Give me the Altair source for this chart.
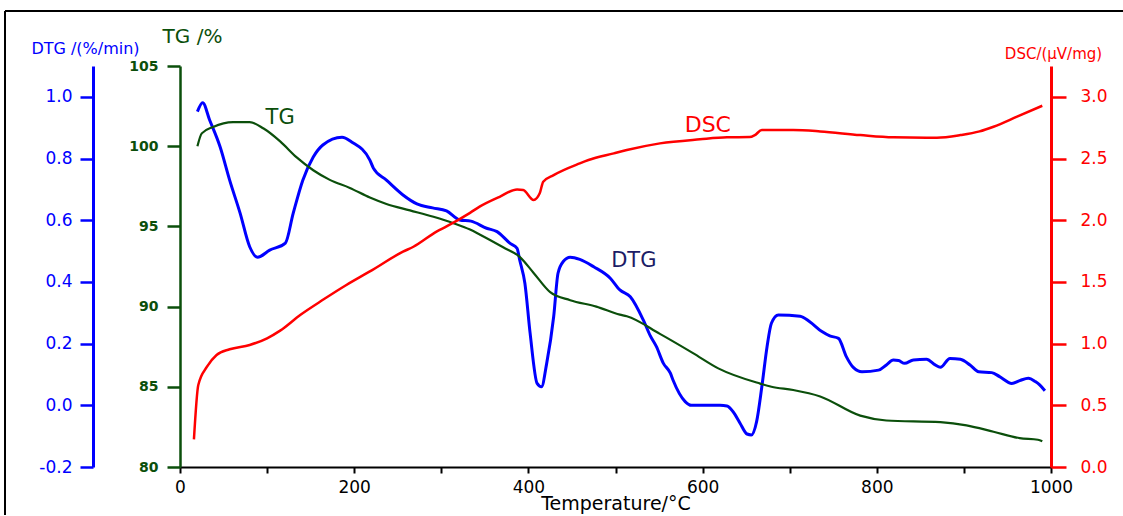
import altair as alt
import pandas as pd

# ---------------- data ----------------
T_TG = [20, 25, 38, 61, 80, 96, 115, 134, 153, 172, 195, 218, 237, 264, 291, 314, 333, 344,
        371, 390, 406, 425, 448, 478, 505, 513, 551, 589, 618, 666, 679, 704, 735, 781, 811,
        873, 903, 934, 964, 985, 990]
TG = [100.0, 100.8, 101.2, 101.5, 101.5, 101.1, 100.3, 99.3, 98.5, 97.9, 97.4, 96.8, 96.4, 96.0,
      95.6, 95.2, 94.8, 94.5, 93.7, 93.1, 92.1, 90.9, 90.4, 90.0, 89.5, 89.4, 88.3, 87.1, 86.15,
      85.2, 85.0, 84.8, 84.4, 83.2, 82.9, 82.8, 82.6, 82.2, 81.8, 81.7, 81.6]

T_DTG = [20, 26, 34, 46, 57, 69, 80, 89, 103, 121, 130, 141, 153, 164, 186, 197, 218, 222, 237,
         256, 272, 290, 306, 321, 334, 352, 364, 379, 387, 390, 396, 402, 410, 415, 421, 429,
         434, 440, 448, 459, 475, 494, 505, 517, 532, 540, 547, 555, 563, 566, 580, 587, 620,
         628, 635, 643, 651, 656, 662, 668, 674, 679, 687, 712, 723, 737, 746, 756, 765, 773,
         783, 802, 811, 819, 825, 832, 842, 857, 867, 873, 884, 896, 907, 917, 932, 941, 955,
         964, 974, 982, 987, 993]
DTG = [0.952, 0.981, 0.925, 0.838, 0.730, 0.623, 0.514, 0.480, 0.503, 0.526, 0.623, 0.730, 0.805,
       0.844, 0.869, 0.854, 0.795, 0.769, 0.730, 0.682, 0.653, 0.640, 0.630, 0.601, 0.597, 0.574,
       0.563, 0.525, 0.509, 0.471, 0.395, 0.233, 0.071, 0.060, 0.136, 0.287, 0.428, 0.466, 0.480,
       0.473, 0.449, 0.412, 0.374, 0.352, 0.276, 0.225, 0.190, 0.136, 0.104, 0.082, 0.012, 0.0,
       0.0, -0.002, -0.021, -0.058, -0.093, -0.096, -0.053, 0.060, 0.190, 0.266, 0.293, 0.289,
       0.271, 0.239, 0.225, 0.217, 0.158, 0.123, 0.109, 0.114, 0.131, 0.147, 0.145, 0.136, 0.147,
       0.149, 0.131, 0.123, 0.152, 0.149, 0.131, 0.109, 0.106, 0.093, 0.071, 0.080, 0.088, 0.077,
       0.066, 0.047]

T_DSC = [16, 21, 31, 42, 57, 80, 100, 115, 138, 165, 191, 218, 256, 268, 295, 306, 333, 344, 367,
         387, 394, 406, 413, 417, 429, 459, 469, 498, 513, 551, 597, 628, 654, 660, 668, 704, 735,
         781, 819, 869, 896, 918, 934, 961, 990]
DSC = [0.224, 0.665, 0.813, 0.908, 0.954, 0.989, 1.043, 1.105, 1.232, 1.359, 1.475, 1.585, 1.745,
       1.785, 1.91, 1.95, 2.06, 2.11, 2.19, 2.25, 2.245, 2.164, 2.218, 2.312, 2.366, 2.461, 2.488,
       2.542, 2.569, 2.623, 2.656, 2.672, 2.674, 2.690, 2.731, 2.731, 2.720, 2.690, 2.672, 2.669,
       2.690, 2.72, 2.758, 2.839, 2.928]

X_TICKS = list(range(0, 1001, 100))
TG_TICKS = [80, 85, 90, 95, 100, 105]
DTG_TICKS = [-0.2, 0.0, 0.2, 0.4, 0.6, 0.8, 1.0]
DSC_TICKS = [0.0, 0.5, 1.0, 1.5, 2.0, 2.5, 3.0]

LABEL_NAMES = ["TG", "DTG", "DSC"]
LABEL_T = [115, 521, 606]
LABEL_V = [101.76, 0.468, 2.77]

FONT = "DejaVu Sans"
BLUE = "#0000ff"
GREEN = "#0b4f0b"
RED = "#ff0000"
NAVY = "#1c1c66"

tg_df = pd.DataFrame({"T": T_TG, "v": TG})
dtg_df = pd.DataFrame({"T": T_DTG, "v": DTG})
dsc_df = pd.DataFrame({"T": T_DSC, "v": DSC})

x_enc = alt.X(
    "T:Q",
    scale=alt.Scale(domain=[0, 1000], nice=False, zero=False),
    axis=alt.Axis(
        values=X_TICKS,
        format="d",
        labelExpr="datum.value % 200 == 0 ? datum.label : ''",
        labelFlush=False,
        title="Temperature/°C",
        grid=False,
        domainColor="black", domainWidth=2,
        tickColor="black", tickWidth=2, tickSize=6,
        labelFont=FONT, labelFontSize=17, labelColor="black", labelPadding=6,
        titleFont=FONT, titleFontSize=19, titleFontWeight="normal", titleColor="black",
        titleY=36, titleBaseline="middle",
    ),
)

tg_scale = alt.Scale(domain=[80, 105], nice=False, zero=False)
dtg_scale = alt.Scale(domain=[-0.2, 1.1], nice=False, zero=False)
dsc_scale = alt.Scale(domain=[0, 3.25], nice=False, zero=False)

dtg_line = alt.Chart(dtg_df).mark_line(color=BLUE, strokeWidth=3, interpolate="monotone").encode(
    x=x_enc,
    y=alt.Y("v:Q", scale=dtg_scale, axis=alt.Axis(
        orient="left", offset=87, values=DTG_TICKS, format=".1f",
        labelExpr="replace(datum.label, '\u2212', '-')",
        grid=False, domainColor=BLUE, domainWidth=3,
        tickColor=BLUE, tickWidth=2.5, tickSize=13,
        labelColor=BLUE, labelFont=FONT, labelFontSize=17, labelPadding=8,
        title="DTG /(%/min)", titleAngle=0, titleX=-8, titleY=-18,
        titleAlign="center", titleBaseline="middle",
        titleColor=BLUE, titleFont=FONT, titleFontSize=16, titleFontWeight="normal",
    )),
)

tg_line = alt.Chart(tg_df).mark_line(color=GREEN, strokeWidth=2.2, interpolate="monotone").encode(
    x=x_enc,
    y=alt.Y("v:Q", scale=tg_scale, axis=alt.Axis(
        orient="left", offset=0, values=TG_TICKS, format="d",
        grid=False, domainColor=GREEN, domainWidth=2.5,
        tickColor=GREEN, tickWidth=2.5, tickSize=13,
        labelColor=GREEN, labelFont=FONT, labelFontSize=14, labelFontWeight="bold",
        labelPadding=9,
        title="TG /%", titleAngle=0, titleX=12, titleY=-30,
        titleAlign="center", titleBaseline="middle",
        titleColor=GREEN, titleFont=FONT, titleFontSize=20, titleFontWeight="normal",
    )),
)

dsc_line = alt.Chart(dsc_df).mark_line(color=RED, strokeWidth=2.5, interpolate="monotone").encode(
    x=x_enc,
    y=alt.Y("v:Q", scale=dsc_scale, axis=alt.Axis(
        orient="right", offset=0, values=DSC_TICKS, format=".1f",
        grid=False, domainColor=RED, domainWidth=3,
        tickColor=RED, tickWidth=2.5, tickSize=15,
        labelColor=RED, labelFont=FONT, labelFontSize=17, labelPadding=14,
        title="DSC/(μV/mg)", titleAngle=0, titleX=2, titleY=-13,
        titleAlign="center", titleBaseline="middle",
        titleColor=RED, titleFont=FONT, titleFontSize=15, titleFontWeight="normal",
    )),
)

def label_layer(i, scale, color, size):
    df = pd.DataFrame({"T": [LABEL_T[i]], "v": [LABEL_V[i]], "name": [LABEL_NAMES[i]]})
    return alt.Chart(df).mark_text(font=FONT, fontSize=size, color=color,
                                   align="center", baseline="middle").encode(
        x=x_enc,
        y=alt.Y("v:Q", scale=scale, axis=None),
        text="name:N",
    )

tg_lab = label_layer(0, tg_scale, GREEN, 21)
dtg_lab = label_layer(1, dtg_scale, NAVY, 21)
dsc_lab = label_layer(2, dsc_scale, RED, 22)

one = pd.DataFrame({"a": [0]})
frame_top = alt.Chart(one).mark_rule(color="black", strokeWidth=2).encode(
    x=alt.value(-175), x2=alt.value(943), y=alt.value(-55))
frame_left = alt.Chart(one).mark_rule(color="black", strokeWidth=2).encode(
    x=alt.value(-175), y=alt.value(-55), y2=alt.value(449))

chart = alt.layer(
    dtg_line, tg_line, dsc_line, tg_lab, dtg_lab, dsc_lab, frame_top, frame_left
).resolve_scale(
    y="independent"
).properties(
    width=871, height=401,
    autosize=alt.AutoSizeParams(type="none"),
    padding={"left": 180, "top": 66, "right": 72, "bottom": 49},
    background="white",
).configure_view(stroke=None)

chart.save("out.html", embed_options={"renderer": "svg", "actions": False})
